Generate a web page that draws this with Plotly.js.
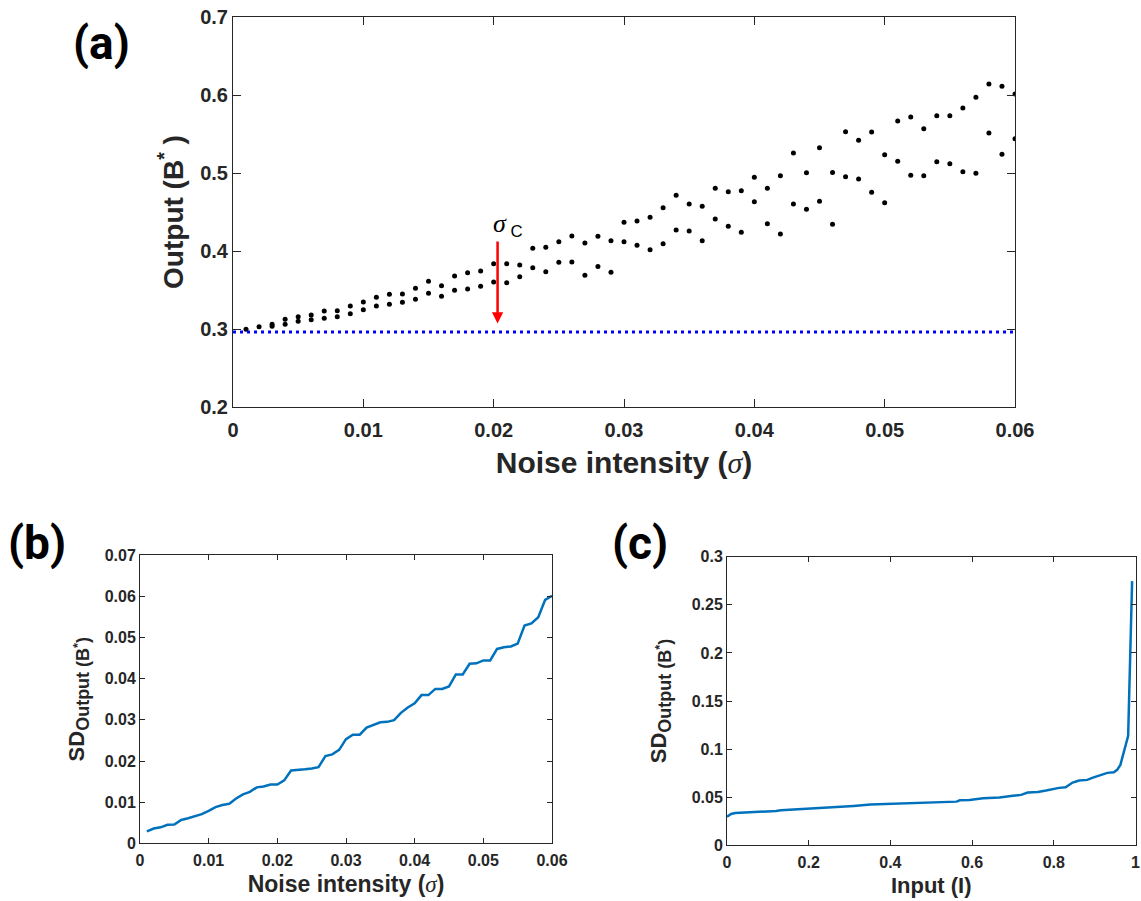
<!DOCTYPE html>
<html><head><meta charset="utf-8">
<script src="https://cdn.plot.ly/plotly-3.0.1.min.js"></script>
<style>html,body{margin:0;padding:0;background:#fff}#chart{width:1141px;height:901px}</style>
</head><body><div id="chart"></div>
<script>
// Panel (a): output B* vs noise intensity (two branches)
const noiseA = [0.001,0.002,0.003,0.004,0.005,0.006,0.007,0.008,0.009,0.010,
  0.011,0.012,0.013,0.014,0.015,0.016,0.017,0.018,0.019,0.020,
  0.021,0.022,0.023,0.024,0.025,0.026,0.027,0.028,0.029,0.030,
  0.031,0.032,0.033,0.034,0.035,0.036,0.037,0.038,0.039,0.040,
  0.041,0.042,0.043,0.044,0.045,0.046,0.047,0.048,0.049,0.050,
  0.051,0.052,0.053,0.054,0.055,0.056,0.057,0.058,0.059,0.060];
const outputUpper = [0.2996,0.303,0.306,0.3124,0.3158,0.318,0.323,0.3235,0.3295,0.3346,
  0.3406,0.3444,0.3449,0.3522,0.3611,0.3555,0.368,0.3722,0.3744,0.3838,
  0.3838,0.382,0.4034,0.4047,0.412,0.4192,0.4103,0.419,0.413,0.4368,
  0.4385,0.4432,0.4555,0.4714,0.4603,0.4573,0.4803,0.476,0.4773,0.4945,
  0.4803,0.4966,0.5256,0.5004,0.5324,0.5008,0.553,0.5419,0.5526,0.5235,
  0.5667,0.5718,0.5568,0.5735,0.5735,0.5833,0.597,0.6141,0.6111,0.6013];
const outputLower = [null,null,0.3035,0.306,0.310,0.312,0.3137,0.3158,0.3196,0.3248,
  0.3295,0.3316,0.3342,0.3381,0.3458,0.3419,0.3496,0.3513,0.3547,0.3603,
  0.3594,0.367,0.3786,0.3735,0.3855,0.3859,0.3688,0.380,0.3727,0.412,
  0.4073,0.4017,0.4094,0.4269,0.4256,0.4132,0.441,0.4317,0.424,0.4632,
  0.435,0.4218,0.4603,0.4534,0.4637,0.4342,0.4953,0.4923,0.4752,0.4619,
  0.515,0.4970,0.4966,0.5145,0.5119,0.5017,0.4996,0.5513,0.524,0.544];
const baselineX = [0, 0.06];
const baselineY = [0.296, 0.296];
const sigmaC = 0.0203;

// Panel (b): SD of output vs noise intensity
const noiseB = noiseA;
const sdB = [0.0029,0.0036,0.0039,0.0045,0.0046,0.0057,0.0061,0.0066,0.0071,0.0079,
  0.0088,0.0093,0.0096,0.0109,0.0119,0.0125,0.0136,0.0138,0.0143,0.0143,
  0.0153,0.0177,0.0178,0.0180,0.0182,0.0185,0.0212,0.0216,0.0227,0.0253,
  0.0264,0.0264,0.0281,0.0287,0.0294,0.0295,0.0299,0.0317,0.0330,0.0340,
  0.0360,0.0360,0.0375,0.0375,0.0381,0.0410,0.0410,0.0436,0.0437,0.0444,
  0.0444,0.0472,0.0476,0.0478,0.0485,0.0529,0.0534,0.0549,0.0591,0.0601];

// Panel (c): SD of output vs input
const inputC = [0,0.01,0.02,0.05,0.083,0.12,0.132,0.164,0.177,0.229,0.294,0.31,0.351,0.456,
  0.562,0.57,0.594,0.627,0.667,0.70,0.72,0.736,0.761,0.781,0.797,0.813,0.829,0.846,
  0.862,0.882,0.894,0.915,0.931,0.947,0.955,0.963,0.975,0.982,0.9917];
const sdC = [0.0298,0.0326,0.0336,0.034,0.0347,0.0357,0.0364,0.0371,0.0381,0.0385,0.0399,0.0409,0.0423,0.0437,
  0.0454,0.0468,0.0472,0.0489,0.0496,0.0514,0.0524,0.0548,0.0555,0.0569,0.0586,0.0597,0.0604,0.0652,
  0.0673,0.068,0.0701,0.0729,0.0753,0.076,0.0784,0.0836,0.101,0.1139,0.2746];

// Tick values
const ticksA_x = [0,0.01,0.02,0.03,0.04,0.05,0.06];
const ticksA_y = [0.2,0.3,0.4,0.5,0.6,0.7];
const ticksB_x = [0,0.01,0.02,0.03,0.04,0.05,0.06];
const ticksB_y = [0,0.01,0.02,0.03,0.04,0.05,0.06,0.07];
const ticksC_x = [0,0.2,0.4,0.6,0.8,1];
const ticksC_y = [0,0.05,0.1,0.15,0.2,0.25,0.3];

const FONT = 'Liberation Sans, Arial, Helvetica, sans-serif';
const INK = '#262626';
const W = 1141, H = 901;
const sigmaHtml = '<span style="font-family:\'Liberation Serif\',serif;font-weight:normal"><i>σ</i></span>';
const sdTitle = 'SD<sub><span style="font-size:18px">Output (B<sup>*</sup>)</span></sub>';

function axisBase(tickSize, tickLen, vals) {
  return {
    showgrid: false, zeroline: false, showline: true, linecolor: INK, linewidth: 1,
    mirror: 'ticks', ticks: 'inside', ticklen: tickLen, tickwidth: 1, tickcolor: INK,
    tickmode: 'array', tickvals: vals, ticktext: vals.map(v => String(v)),
    ticklabeloverflow: 'allow',
    tickfont: {family: FONT, size: tickSize, weight: 'bold', color: INK}
  };
}

const traces = [
  {x: noiseA, y: outputUpper, type: 'scatter', mode: 'markers', xaxis: 'x', yaxis: 'y',
   marker: {color: '#000', size: 5}},
  {x: noiseA, y: outputLower, type: 'scatter', mode: 'markers', xaxis: 'x', yaxis: 'y',
   marker: {color: '#000', size: 5}},
  {x: baselineX, y: baselineY, type: 'scatter', mode: 'lines', xaxis: 'x', yaxis: 'y',
   line: {color: '#0000ff', width: 3, dash: '3px,4px'}},
  {x: noiseB, y: sdB, type: 'scatter', mode: 'lines', xaxis: 'x2', yaxis: 'y2',
   line: {color: '#0072BD', width: 2.5}},
  {x: inputC, y: sdC, type: 'scatter', mode: 'lines', xaxis: 'x3', yaxis: 'y3',
   line: {color: '#0072BD', width: 2.5}}
];

const layout = {
  width: W, height: H, showlegend: false,
  paper_bgcolor: '#fff', plot_bgcolor: '#fff',
  margin: {l: 0, r: 0, t: 0, b: 0},
  font: {family: FONT, color: INK},
  xaxis: Object.assign(axisBase(20, 8, ticksA_x), {
    domain: [233/W, 1015/W], anchor: 'y', range: [0, 0.06], ticklabelstandoff: 5,
    title: {text: 'Noise intensity (' + sigmaHtml + ')', font: {family: FONT, size: 30, weight: 'bold', color: INK}, standoff: 11}
  }),
  yaxis: Object.assign(axisBase(20, 8, ticksA_y), {
    domain: [1 - 407/H, 1 - 17/H], anchor: 'x', range: [0.2, 0.7],
    title: {text: 'Output (B<sup>*</sup> )', font: {family: FONT, size: 28, weight: 'bold', color: INK}, standoff: 8}
  }),
  xaxis2: Object.assign(axisBase(16, 5, ticksB_x), {
    domain: [140/W, 552/W], anchor: 'y2', range: [0, 0.06], ticklabelstandoff: 2,
    title: {text: 'Noise intensity (' + sigmaHtml + ')', font: {family: FONT, size: 23, weight: 'bold', color: INK}, standoff: 8}
  }),
  yaxis2: Object.assign(axisBase(16, 5, ticksB_y), {
    domain: [1 - 843.4/H, 1 - 555/H], anchor: 'x2', range: [0, 0.07],
    title: {text: sdTitle, font: {family: FONT, size: 22, weight: 'bold', color: INK}, standoff: 13}
  }),
  xaxis3: Object.assign(axisBase(16, 5, ticksC_x), {
    domain: [727/W, 1135.5/W], anchor: 'y3', range: [0, 1], ticklabelstandoff: 2,
    title: {text: 'Input (I)', font: {family: FONT, size: 22, weight: 'bold', color: INK}, standoff: 8}
  }),
  yaxis3: Object.assign(axisBase(16, 5, ticksC_y), {
    domain: [1 - 845.3/H, 1 - 556.7/H], anchor: 'x3', range: [0, 0.3],
    title: {text: sdTitle, font: {family: FONT, size: 22, weight: 'bold', color: INK}, standoff: 18}
  }),
  annotations: [
    {xref: 'paper', yref: 'paper', x: 101/W, y: 1 - 43/H, xanchor: 'center', yanchor: 'middle',
     text: '(a)', showarrow: false, font: {family: 'Roboto, sans-serif', size: 46, weight: 'bold', color: '#000'}},
    {xref: 'paper', yref: 'paper', x: 36.5/W, y: 1 - 543/H, xanchor: 'center', yanchor: 'middle',
     text: '(b)', showarrow: false, font: {family: 'Roboto, sans-serif', size: 46, weight: 'bold', color: '#000'}},
    {xref: 'paper', yref: 'paper', x: 640/W, y: 1 - 543/H, xanchor: 'center', yanchor: 'middle',
     text: '(c)', showarrow: false, font: {family: 'Roboto, sans-serif', size: 46, weight: 'bold', color: '#000'}},
    {xref: 'x', yref: 'y', x: sigmaC, y: 0.307, ax: sigmaC, ay: 0.414, axref: 'x', ayref: 'y',
     text: '', showarrow: true, arrowcolor: '#ff0000', arrowwidth: 2.5, arrowhead: 2, arrowsize: 0.9},
    {xref: 'x', yref: 'y', x: 0.0211, y: 0.433, xanchor: 'center', yanchor: 'middle', showarrow: false,
     text: '<span style="font-family:\'Liberation Serif\',serif;font-size:26px"><i>σ</i></span><sub> C</sub>',
     font: {family: FONT, size: 24, color: '#000'}}
  ]
};

Plotly.newPlot('chart', traces, layout, {displayModeBar: false, staticPlot: true});
</script>
</body></html>
